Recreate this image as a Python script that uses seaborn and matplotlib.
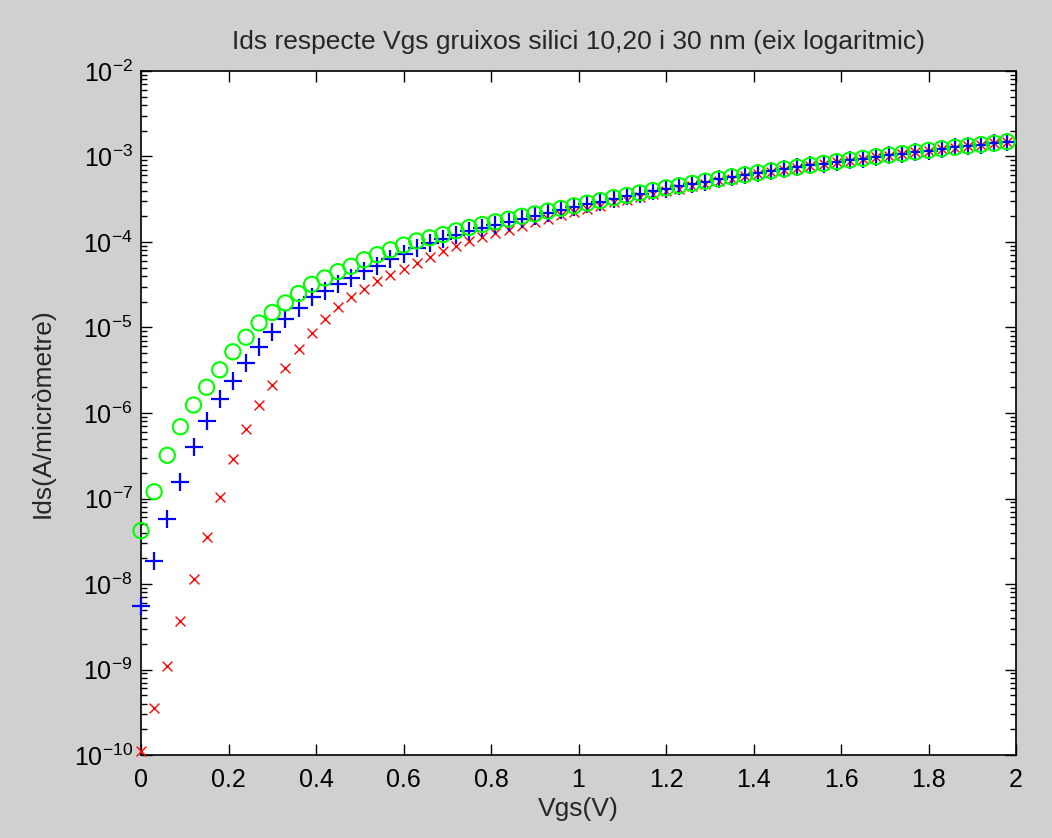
import numpy as np
import pandas as pd
import matplotlib
matplotlib.use("Agg")
import matplotlib.pyplot as plt
import matplotlib.ticker as mticker
import seaborn as sns

# ---- data ----
vgs = [round(0.03 * i, 2) for i in range(67)]

ids_10nm = [1.1e-10, 3.5e-10, 1.1e-9, 3.7e-9, 1.15e-8, 3.5e-8, 1.05e-7, 2.9e-7, 6.5e-7, 1.24e-6,
            2.1e-6, 3.4e-6, 5.6e-6, 8.6e-6, 1.26e-5, 1.74e-5, 2.3e-5, 2.8e-5, 3.5e-5, 4.1e-5,
            4.8e-5, 5.7e-5, 6.6e-5, 7.8e-5, 8.9e-5, 1.02e-4, 1.14e-4, 1.26e-4, 1.4e-4, 1.54e-4,
            1.7e-4, 1.87e-4, 2.05e-4, 2.25e-4, 2.45e-4, 2.67e-4, 2.9e-4, 3.12e-4, 3.37e-4, 3.63e-4,
            3.9e-4, 4.2e-4, 4.5e-4, 4.82e-4, 5.15e-4, 5.5e-4, 5.85e-4, 6.2e-4, 6.58e-4, 6.95e-4,
            7.32e-4, 7.72e-4, 8.12e-4, 8.55e-4, 8.95e-4, 9.38e-4, 9.82e-4, 1.025e-3, 1.07e-3, 1.12e-3,
            1.17e-3, 1.22e-3, 1.27e-3, 1.32e-3, 1.37e-3, 1.42e-3, 1.48e-3]

ids_20nm = [5.5e-9, 1.86e-8, 5.8e-8, 1.56e-7, 4.0e-7, 8.1e-7, 1.45e-6, 2.36e-6, 3.8e-6, 5.9e-6,
            8.9e-6, 1.26e-5, 1.7e-5, 2.3e-5, 2.7e-5, 3.2e-5, 3.8e-5, 4.6e-5, 5.3e-5, 6.3e-5,
            7.3e-5, 8.4e-5, 9.7e-5, 1.08e-4, 1.2e-4, 1.33e-4, 1.45e-4, 1.58e-4, 1.72e-4, 1.87e-4,
            2.0e-4, 2.17e-4, 2.35e-4, 2.55e-4, 2.75e-4, 2.97e-4, 3.2e-4, 3.42e-4, 3.67e-4, 3.93e-4,
            4.22e-4, 4.48e-4, 4.78e-4, 5.08e-4, 5.4e-4, 5.74e-4, 6.05e-4, 6.4e-4, 6.75e-4, 7.1e-4,
            7.45e-4, 7.85e-4, 8.25e-4, 8.65e-4, 9.05e-4, 9.45e-4, 9.9e-4, 1.035e-3, 1.075e-3, 1.125e-3,
            1.175e-3, 1.225e-3, 1.275e-3, 1.325e-3, 1.375e-3, 1.425e-3, 1.485e-3]

ids_30nm = [4.2e-8, 1.2e-7, 3.2e-7, 6.9e-7, 1.24e-6, 2.0e-6, 3.2e-6, 5.2e-6, 7.7e-6, 1.13e-5,
            1.5e-5, 1.94e-5, 2.5e-5, 3.2e-5, 3.8e-5, 4.5e-5, 5.2e-5, 6.2e-5, 7.1e-5, 8.1e-5,
            9.2e-5, 1.03e-4, 1.12e-4, 1.22e-4, 1.35e-4, 1.48e-4, 1.6e-4, 1.72e-4, 1.85e-4, 2.0e-4,
            2.13e-4, 2.3e-4, 2.47e-4, 2.65e-4, 2.85e-4, 3.05e-4, 3.3e-4, 3.5e-4, 3.75e-4, 4.0e-4,
            4.3e-4, 4.55e-4, 4.85e-4, 5.15e-4, 5.45e-4, 5.8e-4, 6.1e-4, 6.45e-4, 6.8e-4, 7.15e-4,
            7.5e-4, 7.9e-4, 8.3e-4, 8.7e-4, 9.1e-4, 9.5e-4, 9.95e-4, 1.04e-3, 1.08e-3, 1.13e-3,
            1.18e-3, 1.23e-3, 1.28e-3, 1.33e-3, 1.38e-3, 1.43e-3, 1.49e-3]

x_ticks = [0, 0.2, 0.4, 0.6, 0.8, 1, 1.2, 1.4, 1.6, 1.8, 2]
x_tick_labels = ["0", "0.2", "0.4", "0.6", "0.8", "1", "1.2", "1.4", "1.6", "1.8", "2"]
y_decades = [-10, -9, -8, -7, -6, -5, -4, -3, -2]

title = "Ids respecte Vgs gruixos silici 10,20 i 30 nm (eix logaritmic)"
xlabel = "Vgs(V)"
ylabel = "Ids(A/micròmetre)"

# ---- style ----
sns.set_style("white")
plt.rcParams["font.family"] = ["Liberation Sans", "DejaVu Sans"]
plt.rcParams["mathtext.default"] = "regular"

fig = plt.figure(figsize=(10.52, 8.38), dpi=100, facecolor="#d0d0d0")
ax = fig.add_axes([141 / 1052, 83 / 838, (1016 - 141) / 1052, (755 - 71) / 838])
ax.set_facecolor("white")

df = pd.DataFrame({"Vgs": vgs, "t10": ids_10nm, "t20": ids_20nm, "t30": ids_30nm})

sns.scatterplot(data=df, x="Vgs", y="t10", ax=ax, marker="x", s=50,
                color="#ff0000", linewidth=1.0, zorder=3, clip_on=False)
sns.scatterplot(data=df, x="Vgs", y="t20", ax=ax, marker="+", s=150,
                color="#0000ff", linewidth=1.6, zorder=4, clip_on=False)
sns.scatterplot(data=df, x="Vgs", y="t30", ax=ax, marker="o", s=120,
                facecolor="none", edgecolor="#00ff00", linewidth=1.5, zorder=5, clip_on=False)

ax.set_yscale("log")
ax.set_xlim(0, 2)
ax.set_ylim(1e-10, 1e-2)
ax.set_xticks(x_ticks)
ax.set_xticklabels(x_tick_labels)

major_y = [10.0 ** d for d in y_decades]
minor_y = [m * 10.0 ** d for d in y_decades[:-1] for m in range(2, 10)]
ax.yaxis.set_major_locator(mticker.FixedLocator(major_y))
ax.yaxis.set_minor_locator(mticker.FixedLocator(minor_y))
ax.yaxis.set_minor_formatter(mticker.NullFormatter())
ax.yaxis.set_major_formatter(mticker.FixedFormatter([r"$10^{%d}$" % d for d in y_decades]))

for sp in ax.spines.values():
    sp.set_color("black")
    sp.set_linewidth(1.2)
    sp.set_zorder(2)

ax.tick_params(axis="both", which="both", direction="in", top=True, right=True,
               left=True, bottom=True, colors="black", labelsize=18)
ax.tick_params(which="major", length=8, width=1.0)
ax.tick_params(which="minor", length=4, width=1.0)
ax.tick_params(axis="x", pad=9)
ax.tick_params(axis="y", pad=6)

ax.set_title(title, fontsize=19, pad=16)
ax.set_xlabel(xlabel, fontsize=19, labelpad=4)
ax.set_ylabel(ylabel, fontsize=19, labelpad=14)

fig.savefig("out.png", dpi=100, facecolor=fig.get_facecolor())
